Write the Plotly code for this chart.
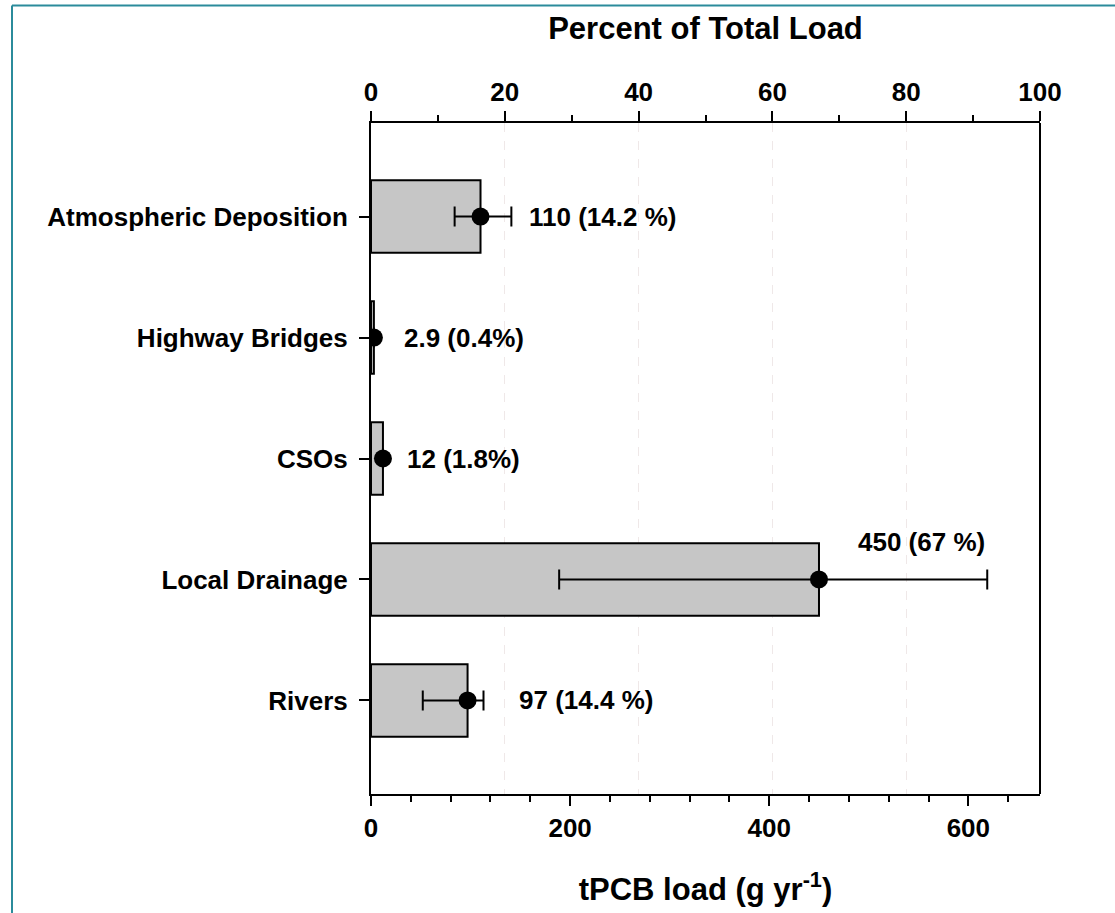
import plotly.graph_objects as go

# ---------------- data ----------------
categories = ["Atmospheric Deposition", "Highway Bridges", "CSOs", "Local Drainage", "Rivers"]
loads = [110, 2.9, 12, 450, 97]            # tPCB load (g/yr)
load_low = [84, 2.9, 12, 189, 52]          # lower error bound
load_high = [141, 2.9, 12, 619, 113]       # upper error bound
label_texts = ["110 (14.2 %)", "2.9 (0.4%)", "12 (1.8%)", "450 (67 %)", "97 (14.4 %)"]
x_max = 672                                 # bottom axis limit (g/yr)
bottom_ticks = [0, 200, 400, 600]
top_ticks = [0, 20, 40, 60, 80, 100]

# ---------------- layout geometry (pixels) ----------------
W, H = 1115, 913
L, R, T, B = 371, 1040, 123, 797
FONT = "Liberation Sans, Arial, sans-serif"

err_plus = [h - v for h, v in zip(load_high, loads)]
err_minus = [v - l for v, l in zip(loads, load_low)]

fig = go.Figure()

fig.add_trace(go.Bar(
    y=categories, x=loads, orientation="h", width=0.6,
    marker=dict(color="#c6c6c6", line=dict(color="black", width=2)),
    showlegend=False, hoverinfo="skip",
))

fig.add_trace(go.Scatter(
    y=categories, x=loads, mode="markers",
    marker=dict(color="black", size=18, symbol="circle"),
    error_x=dict(type="data", symmetric=False, array=err_plus, arrayminus=err_minus,
                 color="black", thickness=2, width=10),
    showlegend=False,
))

# invisible trace to activate the top (percent) axis
fig.add_trace(go.Scatter(x=[0, 100], y=[categories[0], categories[0]], xaxis="x2",
                         mode="markers", marker=dict(opacity=0), showlegend=False,
                         hoverinfo="skip"))

# data labels
shifts = [16, 28, 22, None, 33]
for i, (cat, txt) in enumerate(zip(categories, label_texts)):
    if shifts[i] is None:
        fig.add_annotation(x=loads[i], y=cat, text=txt, showarrow=False,
                           xanchor="center", yanchor="middle", xshift=103, yshift=37,
                           font=dict(family=FONT, size=26, color="black", weight="bold"))
    else:
        fig.add_annotation(x=load_high[i], y=cat, text=txt, showarrow=False,
                           xanchor="left", yanchor="middle", xshift=shifts[i],
                           font=dict(family=FONT, size=26, color="black", weight="bold"))

n = len(categories)
span = (B - T)
pad = (span / 121.5 - (n - 1)) / 2

axis_font = dict(family=FONT, size=26, color="black", weight="bold")

fig.update_layout(
    width=W, height=H,
    margin=dict(l=L, r=W - R, t=T, b=H - B, pad=0),
    paper_bgcolor="white", plot_bgcolor="white",
    bargap=0.4,
    xaxis=dict(
        range=[0, x_max], tickvals=bottom_ticks, ticks="outside", ticklen=10, tickwidth=2,
        tickcolor="black", showline=True, linecolor="black", linewidth=2, mirror=False,
        showgrid=False, zeroline=False, tickfont=axis_font,
        minor=dict(dtick=40, ticks="outside", ticklen=6, tickwidth=2, tickcolor="black", showgrid=False),
        title=dict(text="tPCB load (g yr<sup>-1</sup>)",
                   font=dict(family=FONT, size=31, color="black", weight="bold"),
                   standoff=36),
    ),
    xaxis2=dict(
        range=[0, 100], overlaying="x", side="top", tickvals=top_ticks, ticks="outside",
        ticklen=10, tickwidth=2, tickcolor="black", showline=True, linecolor="black",
        linewidth=2, showgrid=True, gridcolor="#efe8e8", gridwidth=1, griddash="dash",
        zeroline=False, tickfont=axis_font,
        minor=dict(dtick=10, ticks="outside", ticklen=6, tickwidth=2, tickcolor="black", showgrid=False),
        title=dict(text="Percent of Total Load",
                   font=dict(family=FONT, size=31, color="black", weight="bold"),
                   standoff=28),
    ),
    yaxis=dict(
        categoryorder="array", categoryarray=categories,
        range=[n - 1 + pad, -pad], ticks="outside", ticklen=10, tickwidth=2, tickcolor="black",
        showline=True, linecolor="black", linewidth=2, showgrid=False, zeroline=False,
        tickfont=axis_font, ticklabelstandoff=6,
    ),
)

# right frame line
fig.add_shape(type="line", xref="paper", yref="paper", x0=1, x1=1, y0=0, y1=1,
              line=dict(color="black", width=2))

# teal frame around the figure (top and left edges visible)
px = lambda p: (p - L) / (R - L)
py = lambda p: (B - p) / (B - T)
fig.add_shape(type="line", xref="paper", yref="paper", x0=px(12), x1=px(W + 5), y0=py(5), y1=py(5),
              line=dict(color="#2b8b9b", width=2), layer="above")
fig.add_shape(type="line", xref="paper", yref="paper", x0=px(12), x1=px(12), y0=py(5), y1=py(H + 5),
              line=dict(color="#2b8b9b", width=2), layer="above")

fig.write_html("out.html")
